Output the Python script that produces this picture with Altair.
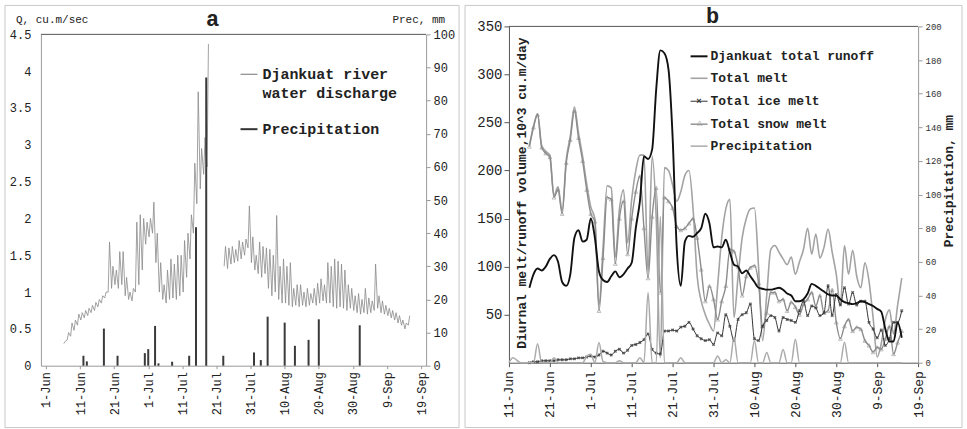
import json
import altair as alt
import pandas as pd

FONT = "Liberation Mono"

# ---------------- panel a: river discharge (daily min / max) ----------------
# day numbers count from 1 June (day 0)
early_days = list(range(5, 48))
early_qmin = [0.30, 0.35, 0.40, 0.48, 0.55, 0.62, 0.65, 0.68, 0.72, 0.75, 0.80, 0.85, 0.92,
              1.00, 1.05, 1.10, 1.05, 1.10, 0.95, 0.90, 0.88, 1.00, 1.10, 1.30, 1.65, 1.75,
              1.80, 1.40, 1.00, 0.90, 0.85, 0.90, 0.92, 0.90, 0.95, 1.00, 1.20, 1.45, 1.80,
              2.20, 2.40, 2.60, 2.70]
early_qmax = [0.33, 0.45, 0.58, 0.62, 0.70, 0.72, 0.75, 0.78, 0.82, 0.86, 0.90, 0.95, 1.00,
              1.68, 1.35, 1.30, 1.55, 1.55, 1.20, 1.00, 1.05, 1.95, 2.05, 2.00, 1.95, 2.00,
              2.22, 1.80, 1.40, 1.10, 1.30, 1.45, 1.38, 1.50, 1.50, 1.70, 1.80, 2.05, 2.75,
              3.72, 2.95, 3.10, 4.37]
late_days = list(range(52, 107))
late_qmin = [1.35, 1.32, 1.38, 1.40, 1.42, 1.45, 1.50, 1.60, 1.40, 1.30, 1.25, 1.20, 1.25,
             1.05, 0.95, 1.00, 0.90, 0.85, 0.85, 0.82, 0.80, 0.82, 0.80, 0.82, 0.80, 0.82,
             0.85, 0.82, 0.85, 0.88, 0.85, 0.85, 0.80, 0.78, 0.80, 0.78, 0.75, 0.78, 0.75,
             0.72, 0.70, 0.72, 0.70, 0.72, 0.75, 0.78, 0.72, 0.70, 0.68, 0.65, 0.62, 0.58,
             0.55, 0.50, 0.55]
late_qmax = [1.62, 1.60, 1.62, 1.58, 1.70, 1.68, 1.72, 2.17, 1.75, 1.50, 1.68, 1.62, 1.60,
             1.58, 1.50, 2.04, 1.35, 1.45, 1.35, 1.40, 1.05, 1.10, 1.10, 1.00, 1.05, 0.98,
             1.05, 1.12, 1.18, 1.10, 1.40, 1.35, 1.45, 1.42, 1.38, 1.30, 1.10, 1.05, 0.95,
             0.98, 0.90, 1.05, 0.92, 0.88, 1.38, 0.95, 0.88, 0.82, 0.78, 0.75, 0.72, 0.68,
             0.62, 0.58, 0.68]

# daily precipitation, mm
prec_day = [11, 12, 17, 21, 29, 30, 32, 33, 37, 42, 44, 47, 52, 61, 63, 65, 70, 73, 77, 80, 92]
prec_mm = [3.0, 1.3, 11.2, 3.0, 3.8, 5.0, 12.0, 0.7, 1.2, 3.0, 41.8, 87.0, 3.0, 4.0, 1.7,
           14.8, 13.0, 6.0, 7.8, 14.0, 12.2]

tick_days = [0, 10, 20, 30, 40, 50, 60, 70, 80, 90, 100, 110]
tick_labels = ["1-Jun", "11-Jun", "21-Jun", "1-Jul", "11-Jul", "21-Jul", "31-Jul",
               "10-Aug", "20-Aug", "30-Aug", "9-Sep", "19-Sep"]

# ---------------- panel b: melt and runoff volumes ----------------
b_days = list(range(15, 107))
runoff = [78, 92, 98, 96, 100, 108, 112, 105, 84, 80,
          92, 130, 138, 126, 128, 150, 130, 95, 86, 84,
          90, 95, 89, 92, 98, 104, 140, 168, 215, 212,
          222, 285, 325, 322, 305, 235, 120, 80, 126, 132,
          131, 135, 140, 155, 145, 120, 121, 120, 128, 115,
          102, 100, 93, 96, 90, 84, 78, 77, 76, 76,
          77, 78, 76, 72, 70, 64, 64, 66, 72, 82,
          80, 77, 74, 71, 70, 70, 66, 63, 62, 61,
          62, 64, 63, 61, 59, 56, 53, 35, 22, 22,
          42, 26]
total_melt = [226, 246, 259, 226, 220, 216, 174, 183, 158, 211,
              236, 266, 239, 215, 186, 162, 150, 60, 120, 184,
              182, 110, 160, 180, 125, 170, 200, 216, 216, 95,
              215, 150, 5, 203, 200, 185, 168, 178, 195, 200,
              160, 90, 64, 50, 40, 33, 80, 130, 160, 170,
              47, 90, 130, 150, 160, 161, 100, 23, 70, 118,
              122, 115, 108, 102, 110, 92, 105, 118, 140, 113,
              134, 109, 120, 139, 115, 92, 60, 122, 92, 117,
              90, 78, 104, 85, 47, 6, 20, 45, 55, 30,
              60, 88]
ice_melt = [0, 1, 1, 2, 2, 2, 2, 3, 3, 3,
            4, 4, 5, 5, 6, 7, 6, 8, 12, 10,
            8, 12, 14, 10, 13, 18, 19, 21, 24, 30,
            14, 10, 9, 33, 33, 34, 33, 37, 38, 42,
            35, 28, 25, 23, 24, 19, 31, 28, 50, 38,
            23, 45, 50, 52, 61, 25, 23, 38, 44, 49,
            47, 33, 47, 45, 44, 42, 54, 64, 49, 59,
            57, 49, 52, 80, 49, 71, 60, 78, 61, 73,
            60, 64, 64, 42, 35, 26, 34, 18, 25, 42,
            42, 54]
snow_melt = [225, 245, 258, 224, 218, 214, 172, 180, 155, 208,
             232, 262, 234, 210, 180, 155, 147, 54, 109, 172,
             170, 103, 150, 168, 113, 150, 178, 194, 140, 88,
             152, 182, 73, 172, 168, 161, 142, 138, 140, 145,
             150, 130, 97, 64, 80, 66, 45, 64, 80, 118,
             116, 100, 70, 90, 99, 101, 83, 38, 52, 73,
             73, 64, 66, 54, 63, 58, 50, 61, 66, 73,
             59, 70, 52, 54, 76, 42, 25, 38, 45, 33,
             37, 35, 23, 18, 11, 16, 14, 25, 38, 9,
             21, 33]
b_prec_days = list(range(10, 107))

# ---------------- tables ----------------
dis_rows = []
for seg, (days, lo, hi) in enumerate([(early_days, early_qmin, early_qmax),
                                      (late_days, late_qmin, late_qmax)]):
    for d, a, b in zip(days, lo, hi):
        dis_rows.append({"t": d + 0.25, "q": a, "seg": seg})
        dis_rows.append({"t": d + 0.65, "q": b, "seg": seg})
dis_df = pd.DataFrame(dis_rows)
prec_df = pd.DataFrame({"t": prec_day, "mm": prec_mm})

melt_df = pd.DataFrame({"t": b_days, "runoff": runoff, "total": total_melt,
                        "ice": ice_melt, "snow": snow_melt})
rain = dict(zip(prec_day, prec_mm))
bprec_df = pd.DataFrame({"t": b_prec_days, "mm": [rain.get(d, 0.0) for d in b_prec_days]})

one_row = pd.DataFrame({"k": [0]})


def label_expr(days, labels):
    return f"{json.dumps(labels)}[indexof({json.dumps(days)}, datum.value)]"


def deco_text(txt, x, y, size, weight="normal", align="left", angle=0, color="#222"):
    return alt.Chart(one_row).mark_text(
        text=txt, font=FONT, fontSize=size, fontWeight=weight, align=align,
        baseline="middle", angle=angle, color=color
    ).encode(x=alt.value(x), y=alt.value(y))


def deco_rule(x1, x2, y, color, width=1.0):
    return alt.Chart(one_row).mark_rule(color=color, strokeWidth=width).encode(
        x=alt.value(x1), x2=alt.value(x2), y=alt.value(y))


def frame(x1, x2, y1, y2):
    return alt.Chart(one_row).mark_rect(fill="transparent", stroke="#c8c8c8", strokeWidth=1).encode(
        x=alt.value(x1), x2=alt.value(x2), y=alt.value(y1), y2=alt.value(y2))


# ================= panel a =================
WA, HA = 386, 340
xa_scale = alt.Scale(domain=[0, 110], nice=False, zero=False)
xa_axis = alt.Axis(values=tick_days, labelExpr=label_expr(tick_days, tick_labels),
                   labelAngle=270, labelFont=FONT, labelFontSize=12, labelColor="#222",
                   domainColor="#9a9a9a", tickColor="#9a9a9a", tickSize=3, labelPadding=3,
                   grid=False, title=None)

q_axis = alt.Axis(values=[0, 0.5, 1, 1.5, 2, 2.5, 3, 3.5, 4, 4.5], format="~g",
                  labelFont=FONT, labelFontSize=12, labelColor="#222", ticks=False,
                  labelPadding=10, domainColor="#9a9a9a", grid=False, title=None)
p_axis = alt.Axis(values=list(range(0, 101, 10)), orient="right", labelFont=FONT,
                  labelFontSize=12, labelColor="#222", tickSize=4, tickColor="#9a9a9a",
                  domainColor="#9a9a9a", labelPadding=3, grid=False, title=None)

discharge = alt.Chart(dis_df).mark_line(color="#8a8a8a", strokeWidth=0.8).encode(
    x=alt.X("t:Q", scale=xa_scale, axis=xa_axis),
    y=alt.Y("q:Q", scale=alt.Scale(domain=[0, 4.5], range=[HA, 8], nice=False), axis=q_axis),
    detail="seg:N",
)
bars = alt.Chart(prec_df).mark_bar(size=2, color="#3a3a3a").encode(
    x=alt.X("t:Q", scale=xa_scale, axis=xa_axis),
    y=alt.Y("mm:Q", scale=alt.Scale(domain=[0, 100], range=[HA, 8], nice=False), axis=p_axis),
)

panel_a = alt.layer(
    frame(-36, 419, -21, 402),
    deco_rule(0, WA, 8, "#555555"),
    discharge,
    bars,
    deco_text("Q, cu.m/sec", -25, -6, 11),
    deco_text("a", 172, -7, 22, weight="bold", align="center"),
    deco_text("Prec, mm", 405, -6, 11, align="right"),
    deco_rule(200, 217, 48, "#8a8a8a", 1.2),
    deco_rule(200, 217, 103, "#333333", 2),
    deco_text("Djankuat river", 222, 48, 15, weight="bold"),
    deco_text("water discharge", 222, 67, 15, weight="bold"),
    deco_text("Precipitation", 222, 103, 15, weight="bold"),
).resolve_scale(y="independent").properties(width=WA, height=HA)

# ================= panel b =================
WB, HB = 410, 337
xb_scale = alt.Scale(domain=[10, 110], nice=False, zero=False)
b_ticks = tick_days[1:]
b_labels = tick_labels[1:]
xb_axis = alt.Axis(values=b_ticks, labelExpr=label_expr(b_ticks, b_labels),
                   labelAngle=270, labelFont=FONT, labelFontSize=13, labelColor="#222",
                   domainColor="#555555", tickColor="#555555", tickSize=4, labelPadding=4,
                   grid=False, title=None)
v_scale = alt.Scale(domain=[0, 350], nice=False)
v_axis = alt.Axis(values=list(range(50, 351, 50)), labelFont=FONT, labelFontSize=14,
                  labelColor="#222", tickSize=5, tickColor="#555555", domainColor="#555555",
                  labelPadding=2, grid=False, title=None)
pb_axis = alt.Axis(values=list(range(0, 201, 20)), orient="right", labelFont=FONT,
                   labelFontSize=9, labelColor="#333", tickSize=4, tickColor="#9a9a9a",
                   domainColor="#9a9a9a", labelPadding=3, grid=False, title=None)

xb = alt.X("t:Q", scale=xb_scale, axis=xb_axis)
base_b = alt.Chart(melt_df)


def vy(field):
    return alt.Y(f"{field}:Q", scale=v_scale, axis=v_axis)


total_line = base_b.mark_line(color="#a3a3a3", strokeWidth=1.6, interpolate="monotone").encode(
    x=xb, y=vy("total"))
snow_line = base_b.mark_line(color="#8c8c8c", strokeWidth=1.4, interpolate="monotone").encode(
    x=xb, y=vy("snow"))
snow_pts = base_b.mark_point(shape="triangle-up", size=14, filled=False, color="#8c8c8c",
                             strokeWidth=0.8).encode(x=xb, y=vy("snow"))
ice_line = base_b.mark_line(color="#333333", strokeWidth=1.0, interpolate="monotone").encode(
    x=xb, y=vy("ice"))
ice_pts = base_b.mark_point(shape="cross", angle=45, size=12, filled=True,
                            color="#333333").encode(x=xb, y=vy("ice"))
runoff_line = base_b.mark_line(color="#111111", strokeWidth=1.9, interpolate="monotone").encode(
    x=xb, y=vy("runoff"))

left_group = alt.layer(total_line, snow_line, snow_pts, ice_line, ice_pts, runoff_line)

prec_line = alt.Chart(bprec_df).mark_line(color="#ababab", strokeWidth=1.5,
                                          interpolate="monotone").encode(
    x=xb,
    y=alt.Y("mm:Q", scale=alt.Scale(domain=[0, 200], nice=False), axis=pb_axis),
)

legend_b = [
    deco_rule(182, 199, 30, "#111111", 2),
    deco_text("Djankuat total runoff", 202, 30, 13, weight="bold"),
    deco_rule(182, 199, 52, "#a3a3a3", 1.6),
    deco_text("Total melt", 202, 52, 13, weight="bold"),
    deco_rule(182, 199, 75, "#333333", 1),
    deco_text("\u00d7", 190.5, 75, 9, weight="bold", align="center", color="#333333"),
    deco_text("Total ice melt", 202, 75, 13, weight="bold"),
    deco_rule(182, 199, 98, "#8c8c8c", 1.4),
    deco_text("\u25b3", 190.5, 97, 7, align="center", color="#8c8c8c"),
    deco_text("Total snow melt", 202, 98, 13, weight="bold"),
    deco_rule(182, 199, 120, "#ababab", 1.5),
    deco_text("Precipitation", 202, 120, 13, weight="bold"),
]

panel_b = alt.layer(
    frame(-44, 454, -21, 402),
    deco_rule(0, WB, 0, "#555555"),
    left_group,
    prec_line,
    deco_text("b", 204, -10, 22, weight="bold", align="center"),
    deco_text("Diurnal melt/runoff volume,10^3 cu.m/day", 13, 167, 13, weight="bold",
              align="center", angle=270),
    deco_text("Precipitation, mm", 441, 155, 13, weight="bold", align="center", angle=270),
    *legend_b,
).resolve_scale(y="independent").properties(width=WB, height=HB)

chart = alt.hconcat(panel_a, panel_b, spacing=83, bounds="flush").properties(
    padding={"left": 4, "top": 4, "right": 4, "bottom": 2},
    background="white",
).configure_view(stroke="transparent")

chart.save("out.html", embed_options={"renderer": "svg", "actions": False})
